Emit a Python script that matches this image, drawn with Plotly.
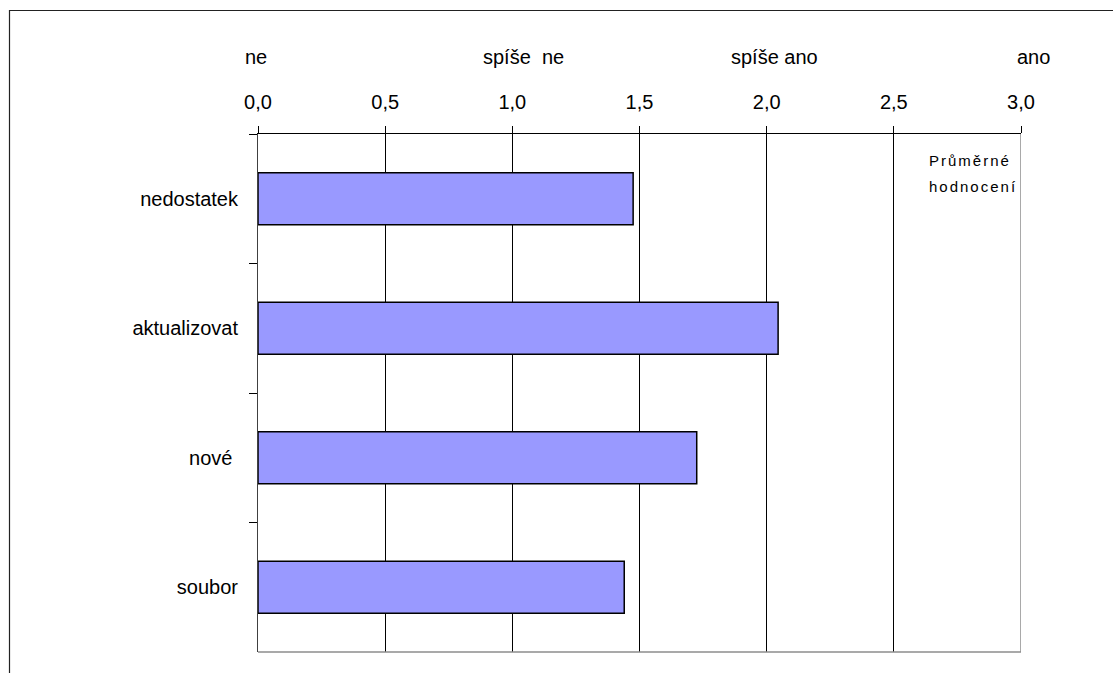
import plotly.graph_objects as go

categories = ["nedostatek", "aktualizovat", "nové ", "soubor"]
values = [1.475, 2.045, 1.725, 1.44]
scale_values = [0, 1, 2, 3]
scale_labels = ["ne", "spíše  ne", "spíše ano", "ano"]
scale_shifts = [-2, 11, 8, 12]
tick_vals = [0, 0.5, 1.0, 1.5, 2.0, 2.5, 3.0]

W, H = 1113, 673
L, R, T, B = 258, 92, 134, 21
pw, ph = W - L - R, H - T - B

def px_x(p):
    return (p - L) / pw

def px_y(p):
    return (H - B - p) / ph

FONT = "Liberation Sans, Arial, sans-serif"

fig = go.Figure()
fig.add_trace(go.Bar(
    y=categories, x=values, orientation="h",
    marker=dict(color="#9999FF", line=dict(color="#000000", width=1.5)),
    width=0.4, hoverinfo="skip",
))

fig.update_layout(
    width=W, height=H,
    margin=dict(l=L, r=R, t=T, b=B, pad=0),
    paper_bgcolor="white", plot_bgcolor="white",
    separators=", ",
    showlegend=False,
    font=dict(family=FONT, color="#000000"),
    xaxis=dict(
        side="top", range=[0, 3], tickvals=tick_vals, tickformat=".1f",
        showgrid=True, gridcolor="#000000", gridwidth=1,
        showline=True, linecolor="#000000", linewidth=1,
        ticks="outside", ticklen=7, tickcolor="#000000",
        tickfont=dict(size=20, family=FONT, color="#000000"),
        ticklabelstandoff=9, zeroline=False, fixedrange=True,
    ),
    yaxis=dict(
        type="category", categoryorder="array", categoryarray=categories,
        autorange="reversed", tickson="boundaries",
        showline=True, linecolor="#404040", linewidth=1,
        ticks="outside", ticklen=8, tickcolor="#000000",
        tickfont=dict(size=20, family=FONT, color="#000000"),
        ticklabelstandoff=15, showgrid=False, fixedrange=True,
    ),
)

# bottom axis line (grey) and right edge line (grey)
fig.add_shape(type="line", xref="paper", yref="paper", x0=0, x1=1, y0=0, y1=0,
              line=dict(color="#8c8c8c", width=1.5))
fig.add_shape(type="line", xref="x", yref="paper", x0=3, x1=3, y0=0, y1=1,
              line=dict(color="#8c8c8c", width=1.5))

# outer frame (partially cropped)
fig.add_shape(type="rect", xref="paper", yref="paper",
              x0=px_x(9.5), x1=1.5, y0=-0.5, y1=px_y(10.5),
              line=dict(color="#222222", width=1.2), fillcolor="rgba(0,0,0,0)")

for v, lab, sh in zip(scale_values, scale_labels, scale_shifts):
    fig.add_annotation(x=v, y=px_y(57), xref="x", yref="paper", text=lab.replace("  ", "&nbsp; "),
                       showarrow=False, xanchor="center", yanchor="middle", xshift=sh,
                       font=dict(size=20, family=FONT, color="#000000"))

note_lines = ["Průměrné", "hodnocení"]
for i, t in enumerate(note_lines):
    fig.add_annotation(x=px_x(927), y=px_y(160 + 26 * i), xref="paper", yref="paper",
                       text='<span style="letter-spacing:2px">' + t + "</span>",
                       showarrow=False, xanchor="left", yanchor="middle",
                       font=dict(size=15, family=FONT, color="#000000"))

fig.write_html("out.html")
